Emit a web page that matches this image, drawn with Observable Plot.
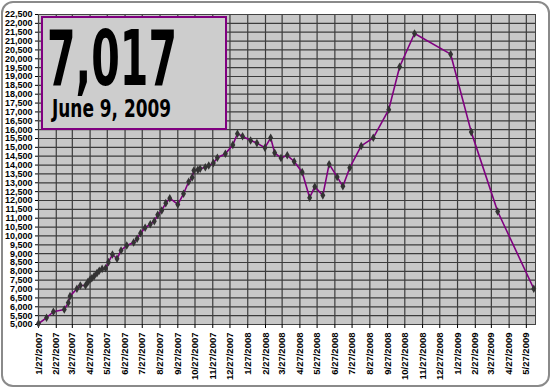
<!DOCTYPE html>
<html>
<head>
<meta charset="utf-8">
<script src="https://cdn.jsdelivr.net/npm/d3@7"></script>
<script src="https://cdn.jsdelivr.net/npm/@observablehq/plot@0.6"></script>
<style>
  html, body { margin: 0; padding: 0; background: #fff; }
  #wrap { position: relative; width: 550px; height: 388px; }
  #border { position: absolute; left: 1px; top: 1px; width: 545px; height: 382px;
            border: 2px solid #8a8a8a; border-radius: 12px; pointer-events: none; box-sizing: content-box; }
  #note { position: absolute; left: 0; top: 0; pointer-events: none; }
</style>
</head>
<body>
<div id="wrap"></div>
<script>
// ---- data ----
const dates = ["2007-01-27","2007-02-10","2007-02-22","2007-03-13","2007-03-20","2007-03-23","2007-04-04","2007-04-10","2007-04-19","2007-04-23",
  "2007-04-27","2007-04-30","2007-05-04","2007-05-09","2007-05-13","2007-05-18","2007-05-24","2007-05-29","2007-06-05","2007-06-13",
  "2007-06-20","2007-06-30","2007-07-12","2007-07-18","2007-07-24","2007-08-01","2007-08-10","2007-08-17","2007-08-23","2007-08-30",
  "2007-09-06","2007-09-13","2007-09-27","2007-10-07","2007-10-16","2007-10-22","2007-10-25","2007-11-01","2007-11-05","2007-11-14",
  "2007-11-20","2007-11-28","2007-12-05","2007-12-19","2008-01-01","2008-01-09","2008-01-18","2008-02-01","2008-02-12","2008-02-26",
  "2008-03-07","2008-03-14","2008-03-25","2008-04-05","2008-04-17","2008-05-01","2008-05-14","2008-05-23","2008-06-06","2008-06-17",
  "2008-07-01","2008-07-11","2008-07-23","2008-08-12","2008-09-02","2008-09-29","2008-10-18","2008-11-13","2009-01-15","2009-02-20",
  "2009-04-07","2009-06-09"];
const values = [5050,5380,5720,5850,6225,6600,7015,7200,7200,7390,
  7540,7610,7730,7900,8030,8140,8180,8520,8950,8710,
  9180,9460,9630,9840,10150,10460,10660,10830,11190,11440,
  11850,12130,11780,12380,13060,13300,13690,13730,13790,13880,
  13980,14110,14410,14640,15140,15770,15630,15390,15240,14980,
  15540,14690,14400,14550,14200,13600,12160,12780,12290,14050,
  13330,12800,13850,15080,15540,17130,19550,21430,20260,15860,
  11380,7017];
const xTickLabels = ["1/27/2007","2/27/2007","3/27/2007","4/27/2007","5/27/2007","6/27/2007","7/27/2007","8/27/2007","9/27/2007","10/27/2007",
  "11/27/2007","12/27/2007","1/27/2008","2/27/2008","3/27/2008","4/27/2008","5/27/2008","6/27/2008","7/27/2008","8/27/2008",
  "9/27/2008","10/27/2008","11/27/2008","12/27/2008","1/27/2009","2/27/2009","3/27/2009","4/27/2009","5/27/2009"];
const yTickValues = [5000,5500,6000,6500,7000,7500,8000,8500,9000,9500,10000,10500,11000,11500,12000,12500,13000,13500,
  14000,14500,15000,15500,16000,16500,17000,17500,18000,18500,19000,19500,20000,20500,21000,21500,22000,22500];
const xDomain = ["2007-01-27","2009-06-12"];
const yDomain = [5000, 22500];

// ---- build ----
const parseISO = d3.utcParse("%Y-%m-%d");
const parseMDY = d3.utcParse("%m/%d/%Y");
const rows = dates.map((d, i) => ({date: parseISO(d), value: values[i]}));
const xTicks = xTickLabels.map(parseMDY);
const fmtX = d3.utcFormat("%-m/%-d/%Y");
const fmtY = d3.format(",");

const chart = Plot.plot({
  width: 550, height: 388,
  marginLeft: 38, marginRight: 15, marginTop: 14, marginBottom: 64,
  style: {fontFamily: "'Liberation Sans', Arial, sans-serif", background: "transparent", color: "#000"},
  x: {type: "utc", domain: xDomain.map(parseISO), axis: null},
  y: {domain: yDomain, axis: null},
  marks: [
    Plot.frame({fill: "#c8c8c8"}),
    Plot.gridX(xTicks, {stroke: "#3c3c3c", strokeOpacity: 1, strokeWidth: 1.2}),
    Plot.gridY(yTickValues, {stroke: "#3c3c3c", strokeOpacity: 1, strokeWidth: 1.2}),
    Plot.frame({stroke: "#444"}),
    Plot.axisY(yTickValues, {tickFormat: fmtY, tickSize: 3, tickPadding: 3, fontSize: 9, fontWeight: "bold", label: null}),
    Plot.axisX(xTicks, {tickFormat: fmtX, tickRotate: -90, tickSize: 4, tickPadding: 4, fontSize: 9.5, fontWeight: "bold", label: null}),
    Plot.line(rows, {x: "date", y: "value", stroke: "#800080", strokeWidth: 1.6}),
    Plot.dot(rows, {x: "date", y: "value", symbol: "diamond", fill: "#333", stroke: "none", r: 2.6})
  ]
});
const wrap = document.getElementById("wrap");
wrap.appendChild(chart);

// ---- annotation box with the latest value ----
const last = rows[rows.length - 1];
const note = d3.select(wrap).append("svg").attr("id", "note").attr("width", 550).attr("height", 388);
note.append("rect").attr("x", 42).attr("y", 17).attr("width", 184).attr("height", 112)
  .attr("fill", "#cdcdcd").attr("stroke", "#800080").attr("stroke-width", 2);
note.append("text").attr("x", 47).attr("y", 85)
  .attr("font-family", "'Liberation Sans Narrow', 'DejaVu Sans Condensed', 'Liberation Sans', sans-serif")
  .attr("font-weight", "bold").attr("font-size", 76)
  .attr("textLength", 130).attr("lengthAdjust", "spacingAndGlyphs")
  .attr("fill", "#000")
  .text(fmtY(last.value));
note.append("text").attr("x", 52).attr("y", 117)
  .attr("font-family", "'Liberation Sans Narrow', 'DejaVu Sans Condensed', 'Liberation Sans', sans-serif")
  .attr("font-weight", "bold").attr("font-size", 25)
  .attr("textLength", 119).attr("lengthAdjust", "spacingAndGlyphs")
  .attr("fill", "#000")
  .text(d3.utcFormat("%B %-d, %Y")(last.date));

d3.select(wrap).append("div").attr("id", "border");
</script>
</body>
</html>
